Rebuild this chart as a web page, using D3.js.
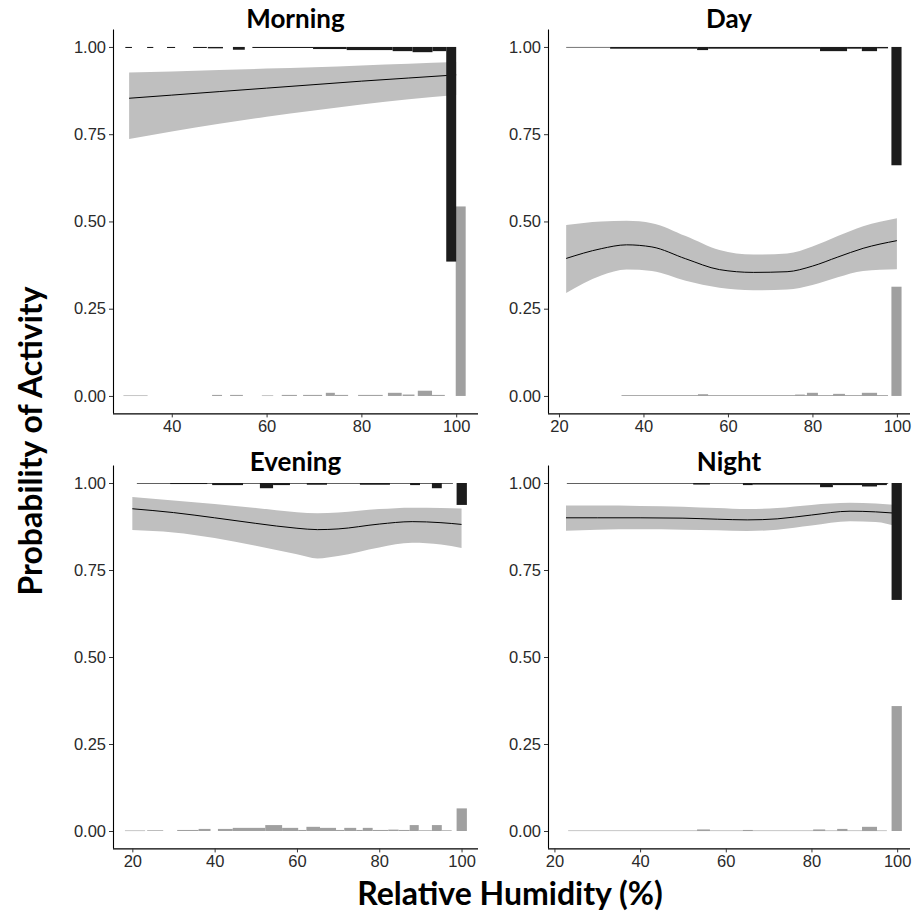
<!DOCTYPE html>
<html><head><meta charset="utf-8">
<script src="https://cdn.jsdelivr.net/npm/d3@7"></script>
<style>body{margin:0;background:#fff}svg{display:block}</style>
</head><body>
<svg id="c" width="915" height="914"></svg>
<script>
// ---------- DATA ----------
const panelNames = ["Morning", "Day", "Evening", "Night"];
const yTickValues = [0, 0.25, 0.5, 0.75, 1];
const yTickLabels = ["0.00", "0.25", "0.50", "0.75", "1.00"];
const xTicksMorning = [40, 60, 80, 100];
const xTicksOther = [20, 40, 60, 80, 100];
const xLabel = "Relative Humidity (%)";
const yLabel = "Probability of Activity";

// fitted logistic curves: humidity, fit, lower, upper
const morningRH    = [31, 40, 50, 60, 70, 80, 90, 100];
const morningFit   = [0.853, 0.862, 0.872, 0.882, 0.892, 0.902, 0.911, 0.920];
const morningLower = [0.736, 0.758, 0.780, 0.800, 0.818, 0.835, 0.850, 0.862];
const morningUpper = [0.927, 0.930, 0.934, 0.938, 0.942, 0.947, 0.952, 0.957];

const dayRH    = [21.7, 30, 36, 42, 50, 58, 66, 74, 80, 86, 92, 100];
const dayFit   = [0.394, 0.422, 0.433, 0.427, 0.393, 0.362, 0.354, 0.356, 0.372, 0.398, 0.423, 0.445];
const dayLower = [0.295, 0.345, 0.362, 0.358, 0.330, 0.310, 0.303, 0.305, 0.318, 0.340, 0.358, 0.363];
const dayUpper = [0.490, 0.500, 0.502, 0.495, 0.458, 0.418, 0.405, 0.408, 0.428, 0.458, 0.486, 0.509];

const eveningRH    = [20, 30, 40, 50, 60, 65, 70, 80, 88, 95, 100];
const eveningFit   = [0.926, 0.915, 0.900, 0.884, 0.870, 0.866, 0.868, 0.882, 0.889, 0.886, 0.881];
const eveningLower = [0.865, 0.858, 0.842, 0.820, 0.795, 0.783, 0.790, 0.815, 0.828, 0.823, 0.813];
const eveningUpper = [0.960, 0.950, 0.940, 0.928, 0.916, 0.913, 0.915, 0.925, 0.929, 0.928, 0.927];

const nightRH    = [22.7, 30, 40, 50, 58, 65, 72, 80, 89, 95, 100];
const nightFit   = [0.900, 0.900, 0.900, 0.899, 0.896, 0.894, 0.897, 0.908, 0.919, 0.917, 0.913];
const nightLower = [0.863, 0.866, 0.867, 0.866, 0.864, 0.862, 0.866, 0.878, 0.890, 0.888, 0.875];
const nightUpper = [0.935, 0.935, 0.934, 0.932, 0.928, 0.925, 0.928, 0.937, 0.943, 0.941, 0.937];

// histogram bins [x0, x1, proportion]; top = active (hang from 1), bottom = inactive (rise from 0)
const morningTop = [[30.2,31.6,0.003],[34.8,36.1,0.003],[39,40.7,0.003],[44.5,47.4,0.003],[47.6,50.8,0.004],[52.9,55.4,0.008],[57,69.8,0.003],[69.8,76.9,0.006],[76.9,86.6,0.009],[86.6,90.8,0.012],[90.8,95,0.015],[95,97.9,0.012],[97.9,100,0.615]];
const morningBottom = [[29.8,34.9,0.0015],[48.5,50.6,0.003],[52.3,55,0.003],[59,61.4,0.0015],[63.2,66.4,0.003],[67.7,71.7,0.003],[72.5,74.4,0.009],[74.4,77.2,0.003],[79.3,84.5,0.003],[85.6,88.5,0.009],[88.7,91.2,0.004],[91.9,94.9,0.015],[94.9,97.6,0.003],[99.9,102,0.543]];

const dayTop = [[21.7,32.1,0.0015],[32.1,52.7,0.005],[52.7,55.3,0.009],[55.3,81.8,0.005],[81.8,88.2,0.012],[88.2,91.7,0.005],[91.7,95.3,0.012],[95.3,97.9,0.004],[98.7,101.1,0.339]];
const dayBottom = [[34.8,97.9,0.0025],[52.9,55.3,0.005],[75.9,78.2,0.004],[78.7,81.3,0.009],[84.9,87.7,0.006],[91.7,95.3,0.009],[98.7,101.1,0.313]];

const eveningTop = [[21.1,97.9,0.002],[29.2,38.2,0.003],[39.4,41.3,0.006],[41.3,46.9,0.006],[51,54.2,0.015],[54.2,58.3,0.006],[62.4,67.3,0.005],[75.3,82.6,0.005],[87.5,89.9,0.006],[92.8,95.2,0.015],[98.8,101.3,0.063]];
const eveningBottom = [[18.2,23.1,0.0015],[23.6,27.5,0.002],[30.9,36.1,0.003],[36.1,39,0.006],[40.8,44.4,0.006],[44.4,52.3,0.009],[52.3,56.4,0.017],[56.4,60.3,0.009],[60.3,62.3,0.003],[62.3,65.6,0.012],[65.6,69.5,0.009],[69.5,71.5,0.003],[71.5,74.4,0.009],[74.4,76,0.003],[76,78.4,0.009],[78.4,82.2,0.003],[82.2,84.7,0.004],[84.7,87.4,0.003],[87.4,89.6,0.017],[89.6,92.8,0.002],[92.8,95.2,0.017],[95.2,97.6,0.002],[98.8,101.3,0.065]];

const nightTop = [[22.9,97.9,0.002],[52.4,56.3,0.0045],[64,66.3,0.006],[66.3,82,0.0045],[82,85,0.012],[85,91.8,0.006],[91.8,95.3,0.010],[95.3,97.6,0.006],[98.7,101.1,0.336]];
const nightBottom = [[23.2,97.6,0.0015],[53.3,56.3,0.0045],[64,66.3,0.003],[80.4,83.2,0.0045],[86,88.4,0.006],[91.8,95.3,0.012],[98.7,101.1,0.359]];

// ---------- LAYOUT ----------
const panels = [
  {name: panelNames[0], rh: morningRH, fit: morningFit, lo: morningLower, hi: morningUpper, top: morningTop, bot: morningBottom, xticks: xTicksMorning,
   xd: [27.6, 104.6], xr: [113, 478], yr: [413.4, 29.5], ty: 28},
  {name: panelNames[1], rh: dayRH, fit: dayFit, lo: dayLower, hi: dayUpper, top: dayTop, bot: dayBottom, xticks: xTicksOther,
   xd: [17.4, 103.1], xr: [548, 910], yr: [413.4, 29.5], ty: 28},
  {name: panelNames[2], rh: eveningRH, fit: eveningFit, lo: eveningLower, hi: eveningUpper, top: eveningTop, bot: eveningBottom, xticks: xTicksOther,
   xd: [15.3, 104.0], xr: [113, 478], yr: [848.4, 465.6], ty: 471},
  {name: panelNames[3], rh: nightRH, fit: nightFit, lo: nightLower, hi: nightUpper, top: nightTop, bot: nightBottom, xticks: xTicksOther,
   xd: [18.5, 103.0], xr: [548, 910], yr: [848.4, 465.6], ty: 471}
];

const svg = d3.select("#c");
const tickFont = "'Liberation Sans', Arial, sans-serif";
const titleFont = "Lato, 'Open Sans', sans-serif";

panels.forEach(p => {
  const x = d3.scaleLinear().domain(p.xd).range(p.xr);
  const y = d3.scaleLinear().domain([-0.05, 1.05]).range(p.yr);
  const g = svg.append("g");
  const pts = p.rh.map((h, i) => ({h, f: p.fit[i], lo: p.lo[i], hi: p.hi[i]}));

  // confidence band
  g.append("path").datum(pts)
    .attr("fill", "#bfbfbf")
    .attr("d", d3.area().curve(d3.curveMonotoneX).x(d => x(d.h)).y0(d => y(d.lo)).y1(d => y(d.hi)));
  // fitted line
  g.append("path").datum(pts)
    .attr("fill", "none").attr("stroke", "#000").attr("stroke-width", 1)
    .attr("d", d3.line().curve(d3.curveMonotoneX).x(d => x(d.h)).y(d => y(d.f)));

  // bottom histogram (inactive)
  g.selectAll(".b").data(p.bot).enter().append("rect")
    .attr("x", d => x(d[0])).attr("width", d => x(d[1]) - x(d[0]))
    .attr("y", d => y(d[2])).attr("height", d => Math.max(0.6, y(0) - y(d[2])))
    .attr("fill", "#a0a0a0");
  // top histogram (active)
  g.selectAll(".t").data(p.top).enter().append("rect")
    .attr("x", d => x(d[0])).attr("width", d => x(d[1]) - x(d[0]))
    .attr("y", y(1)).attr("height", d => Math.max(0.6, y(1 - d[2]) - y(1)))
    .attr("fill", "#1c1c1c");

  // axes
  const yAxis = d3.axisLeft(y).tickValues(yTickValues).tickFormat((d, i) => yTickLabels[i]).tickSizeOuter(0).tickSize(4).tickPadding(3);
  const ya = g.append("g").attr("transform", `translate(${p.xr[0]},0)`).call(yAxis);
  ya.select(".domain").attr("d", `M0.5,${p.yr[1]}V${p.yr[0]}`).attr("stroke", "#000").attr("stroke-width", 1.1);
  const xAxis = d3.axisBottom(x).tickValues(p.xticks).tickSizeOuter(0).tickSize(4).tickPadding(3);
  const xa = g.append("g").attr("transform", `translate(0,${p.yr[0]})`).call(xAxis);
  xa.select(".domain").attr("d", `M${p.xr[0]},0.5H${p.xr[1]}`).attr("stroke", "#000").attr("stroke-width", 1.1);
  [ya, xa].forEach(a => {
    a.attr("font-family", tickFont).attr("font-size", 16.5);
    a.selectAll("text").attr("font-family", tickFont).attr("font-size", 16.5).attr("fill", "#2a2a2a");
    a.selectAll(".tick line").attr("stroke", "#333");
  });

  // panel title
  svg.append("text").attr("x", (p.xr[0] + p.xr[1]) / 2).attr("y", p.ty)
    .attr("text-anchor", "middle").attr("font-family", titleFont).attr("font-weight", 700)
    .attr("font-size", 26).attr("fill", "#000").text(p.name);
});

svg.append("text").attr("x", 510).attr("y", 905).attr("text-anchor", "middle")
  .attr("font-family", titleFont).attr("font-weight", 700).attr("font-size", 32).text(xLabel);
svg.append("text").attr("transform", "translate(42,441) rotate(-90)").attr("text-anchor", "middle")
  .attr("font-family", titleFont).attr("font-weight", 700).attr("font-size", 32).text(yLabel);
</script>
</body></html>
